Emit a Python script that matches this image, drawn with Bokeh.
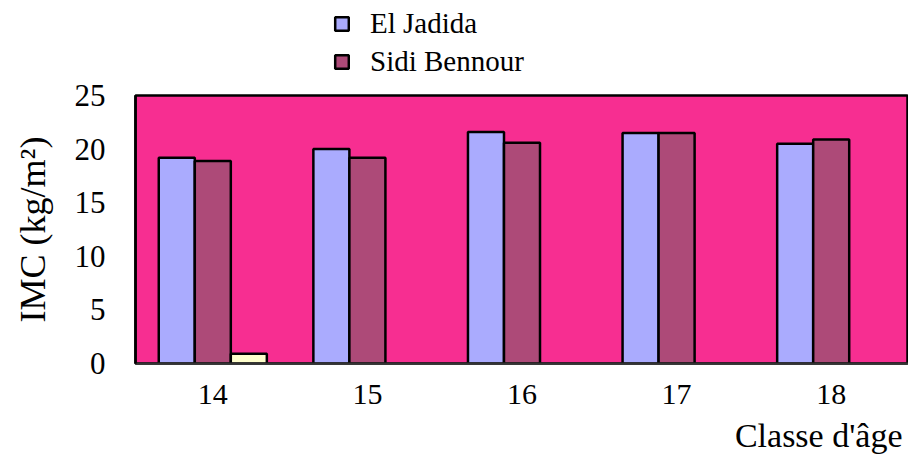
from bokeh.plotting import figure
from bokeh.models import Legend, LegendItem, Title, FixedTicker, Range1d, ColumnDataSource
from bokeh.layouts import column
from bokeh.embed import file_html
from bokeh.resources import INLINE

# ---- data ----
categories = ["14", "15", "16", "17", "18"]
el_jadida = [19.2, 20.0, 21.6, 21.5, 20.5]
sidi_bennour = [18.9, 19.2, 20.6, 21.5, 20.9]
third_series = [0.9, float("nan"), float("nan"), float("nan"), float("nan")]
y_ticks = [0, 5, 10, 15, 20, 25]
x_title = "Classe d'âge"
y_title = "IMC (kg/m²)"
series_names = ["El Jadida", "Sidi Bennour"]

FONT = "Liberation Serif"
BW = 0.233  # bar width as fraction of category
COL_A, COL_B, COL_C = "#AAABFE", "#AD4A78", "#FFFFCC"

idx = list(range(1, len(categories) + 1))

src = ColumnDataSource(dict(
    x1=[i - BW for i in idx], x2=idx, x3=[i + BW for i in idx],
    a=el_jadida, b=sidi_bennour, c=third_series))

# ---------------- main chart ----------------
p = figure(width=908, height=383, output_backend="svg", toolbar_location=None,
           x_range=Range1d(0.5, len(categories) + 0.5), y_range=Range1d(0, 25),
           min_border_left=135, min_border_top=17, min_border_bottom=98, min_border_right=0)

p.border_fill_color = "white"
p.background_fill_color = "#F72E91"
p.outline_line_color = "black"
p.outline_line_width = 2.5
p.grid.visible = False

r1 = p.vbar(x="x1", top="a", bottom=0, width=BW, source=src,
            fill_color=COL_A, line_color="black", line_width=2.5)
r2 = p.vbar(x="x2", top="b", bottom=0, width=BW, source=src,
            fill_color=COL_B, line_color="black", line_width=2.5)
r3 = p.vbar(x="x3", top="c", bottom=0, width=BW, source=src,
            fill_color=COL_C, line_color="black", line_width=2.5)

p.xaxis.ticker = FixedTicker(ticks=idx)
p.xaxis.major_label_overrides = {i: c for i, c in zip(idx, categories)}
p.xaxis.major_label_text_font = FONT
p.xaxis.major_label_text_font_size = "30px"
p.xaxis.major_label_text_color = "black"
p.xaxis.major_tick_line_color = None
p.xaxis.major_tick_out = 0
p.xaxis.major_tick_in = 0
p.xaxis.minor_tick_line_color = None
p.xaxis.axis_line_color = "#333333"
p.xaxis.axis_line_width = 2
p.xaxis.major_label_standoff = 21

p.yaxis.ticker = FixedTicker(ticks=y_ticks)
p.yaxis.major_label_text_font = FONT
p.yaxis.major_label_text_font_size = "31px"
p.yaxis.major_label_text_color = "black"
p.yaxis.major_tick_line_color = None
p.yaxis.major_tick_out = 0
p.yaxis.major_tick_in = 0
p.yaxis.minor_tick_line_color = None
p.yaxis.axis_line_color = "black"
p.yaxis.axis_line_width = 2.5
p.yaxis.major_label_standoff = 30
p.yaxis.axis_label = y_title
p.yaxis.axis_label_text_font = FONT
p.yaxis.axis_label_text_font_size = "36px"
p.yaxis.axis_label_text_font_style = "normal"
p.yaxis.axis_label_text_color = "black"
p.yaxis.axis_label_standoff = 19

p.add_layout(Title(text=x_title, align="right", offset=6, standoff=16,
                   text_font=FONT, text_font_size="34px", text_font_style="normal",
                   text_color="black"), "below")

# ---------------- legend strip ----------------
lf = figure(width=908, height=78, output_backend="svg", toolbar_location=None,
            x_range=Range1d(0.5, len(categories) + 0.5), y_range=Range1d(0, 25),
            x_axis_type=None, y_axis_type=None,
            min_border_left=0, min_border_right=0, min_border_top=0, min_border_bottom=0)
lf.outline_line_color = None
lf.background_fill_color = "white"
lf.border_fill_color = "white"
lf.grid.visible = False
la = lf.vbar(x="x1", top="a", bottom=0, width=BW, source=src, visible=False,
             fill_color=COL_A, line_color="black", line_width=2.5)
lb = lf.vbar(x="x2", top="b", bottom=0, width=BW, source=src, visible=False,
             fill_color=COL_B, line_color="black", line_width=2.5)

legend = Legend(items=[LegendItem(label=series_names[0], renderers=[la]),
                       LegendItem(label=series_names[1], renderers=[lb])],
                location=(198, 0), orientation="vertical",
                label_text_font=FONT, label_text_font_size="29px", label_text_color="black",
                glyph_width=17, glyph_height=17, label_standoff=20, spacing=5,
                inactive_fill_alpha=0,
                padding=0, margin=0, border_line_color=None, background_fill_alpha=0)
lf.add_layout(legend, "center")

layout = column(lf, p, spacing=0)
open("out.html", "w").write(file_html(layout, INLINE))
